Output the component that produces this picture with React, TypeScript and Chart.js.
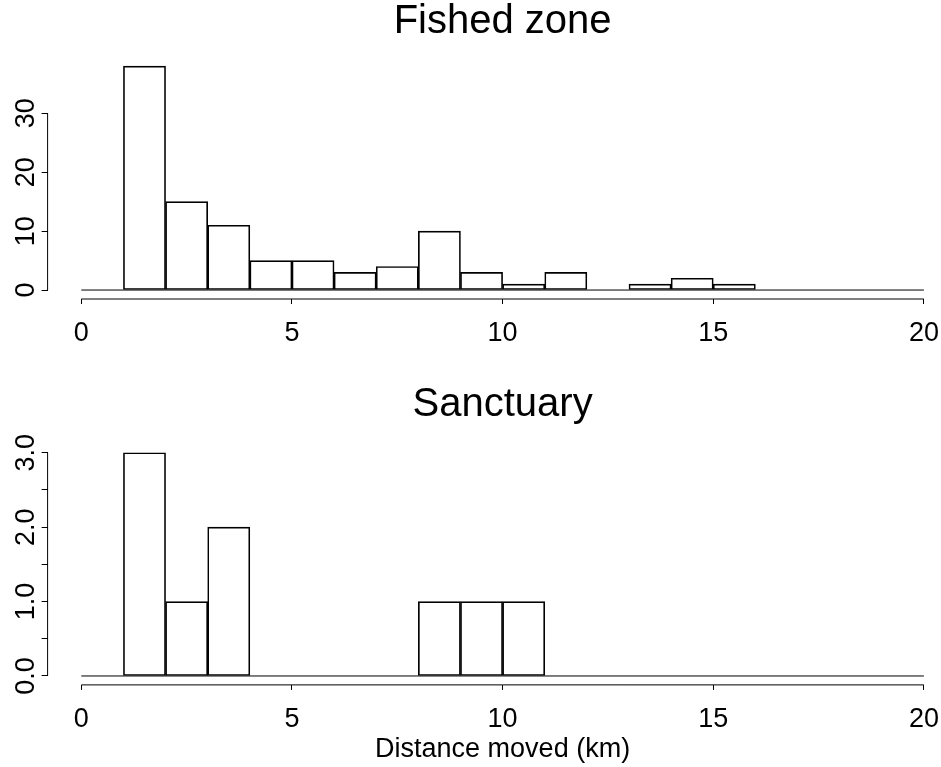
import React, { useEffect, useRef } from 'react';
import { Chart, registerables } from 'chart.js';

Chart.register(...registerables);

// ---------- data ----------
const breaks = [0, 1, 2, 3, 4, 5, 6, 7, 8, 9, 10, 11, 12, 13, 14, 15, 16, 17, 18, 19, 20];
const fishedCounts = [0, 38, 15, 11, 5, 5, 3, 4, 10, 3, 1, 3, 0, 1, 2, 1, 0, 0, 0, 0];
const sanctuaryCounts = [0, 3, 1, 2, 0, 0, 0, 0, 1, 1, 1, 0, 0, 0, 0, 0, 0, 0, 0, 0];

const xTicks = [0, 5, 10, 15, 20];
const xTickLabels = ['0', '5', '10', '15', '20'];
const fishedYTicks = [0, 10, 20, 30];
const fishedYLabels = ['0', '10', '20', '30'];
const sanctuaryYTicks = [0, 0.5, 1, 1.5, 2, 2.5, 3];
const sanctuaryYLabels = ['0.0', '', '1.0', '', '2.0', '', '3.0'];

const fishedTitle = 'Fished zone';
const sanctuaryTitle = 'Sanctuary';
const xAxisTitle = 'Distance moved (km)';

const FONT = "'Liberation Sans', Arial, Helvetica, sans-serif";
const TICK_SIZE = 27;
const TITLE_SIZE = 40;
const CANVAS_W = 1005;
const PLOT_LEFT = 47.6;
const PLOT_RIGHT = 957.6;

const rAxesPlugin = {
  id: 'rAxes',
  afterDraw(chart: any) {
    const { ctx, chartArea } = chart;
    const xs = chart.scales.x;
    const ys = chart.scales.y;
    const xv = xs.ticks.map((t: any) => t.value);
    const yv = ys.ticks.map((t: any) => t.value);
    ctx.save();
    ctx.strokeStyle = '#000';
    ctx.lineWidth = 1;
    ctx.beginPath();
    ctx.moveTo(xs.getPixelForValue(Math.min(...xv)), chartArea.bottom);
    ctx.lineTo(xs.getPixelForValue(Math.max(...xv)), chartArea.bottom);
    ctx.moveTo(chartArea.left, ys.getPixelForValue(Math.min(...yv)));
    ctx.lineTo(chartArea.left, ys.getPixelForValue(Math.max(...yv)));
    ctx.stroke();
    ctx.restore();
  },
};

function makeConfig(opts: {
  counts: number[];
  title: string;
  yTicks: number[];
  yLabels: string[];
  titleAreaHeight: number;
  titlePadTop: number;
  xAxisHeight: number;
  yLabelPad: number;
  xTitle?: string;
}) {
  const { counts, title, yTicks, yLabels, titleAreaHeight, titlePadTop, xAxisHeight, yLabelPad, xTitle } = opts;
  const barData = counts.map((c, i) => ({ x: (breaks[i] + breaks[i + 1]) / 2, y: c }));
  const ymax = Math.max(...counts);
  const xmin = breaks[0];
  const xmax = breaks[breaks.length - 1];
  const xpad = (xmax - xmin) * 0.04;
  const ypad = ymax * 0.04;
  return {
    type: 'bar',
    data: {
      datasets: [
        {
          type: 'bar',
          data: barData,
          xAxisID: 'x',
          yAxisID: 'y',
          backgroundColor: 'rgba(255,255,255,0)',
          borderColor: '#000',
          borderWidth: 1,
          borderSkipped: false,
          barPercentage: 1,
          categoryPercentage: 1,
        },
        {
          type: 'line',
          data: [
            { x: xmin, y: 0 },
            { x: xmax, y: 0 },
          ],
          xAxisID: 'x',
          yAxisID: 'y',
          borderColor: '#000',
          borderWidth: 1,
          pointRadius: 0,
          fill: false,
        },
      ],
    },
    options: {
      responsive: false,
      animation: false,
      events: [],
      layout: { padding: { left: 0, right: CANVAS_W - PLOT_RIGHT, top: 0, bottom: 0 } },
      plugins: {
        legend: { display: false },
        tooltip: { enabled: false },
        title: { display: false },
      },
      scales: {
        xTop: {
          type: 'linear',
          position: 'top',
          display: true,
          min: xmin - xpad,
          max: xmax + xpad,
          offset: false,
          afterFit: (s: any) => {
            s.height = titleAreaHeight;
          },
          border: { display: false },
          grid: { display: false },
          ticks: { display: false },
          title: {
            display: true,
            text: title,
            color: '#000',
            font: { family: FONT, size: TITLE_SIZE, weight: 'normal', lineHeight: 1 },
            padding: { top: titlePadTop, bottom: 0 },
          },
        },
        x: {
          type: 'linear',
          position: 'bottom',
          min: xmin - xpad,
          max: xmax + xpad,
          offset: false,
          afterBuildTicks: (s: any) => {
            s.ticks = xTicks.map((v) => ({ value: v }));
          },
          afterFit: (s: any) => {
            s.height = xAxisHeight;
          },
          border: { display: false },
          grid: {
            offset: false,
            drawOnChartArea: false,
            drawTicks: true,
            tickLength: 5,
            color: '#000',
            lineWidth: 1,
          },
          ticks: {
            autoSkip: false,
            maxRotation: 0,
            minRotation: 0,
            padding: 13.5,
            color: '#000',
            font: { family: FONT, size: TICK_SIZE, lineHeight: 1.2 },
            callback: (v: any) => {
              const i = xTicks.indexOf(Number(v));
              return i >= 0 ? xTickLabels[i] : '';
            },
          },
          title: xTitle
            ? {
                display: true,
                text: xTitle,
                color: '#000',
                font: { family: FONT, size: TICK_SIZE, lineHeight: 1.2 },
                padding: { top: 0, bottom: 1 },
              }
            : { display: false },
        },
        y: {
          type: 'linear',
          position: 'left',
          min: -ypad,
          max: ymax + ypad,
          afterBuildTicks: (s: any) => {
            s.ticks = yTicks.map((v) => ({ value: v }));
          },
          afterFit: (s: any) => {
            s.width = PLOT_LEFT;
          },
          border: { display: false },
          grid: {
            drawOnChartArea: false,
            drawTicks: true,
            tickLength: 6,
            color: '#000',
            lineWidth: 1,
          },
          ticks: {
            autoSkip: false,
            minRotation: 90,
            maxRotation: 90,
            crossAlign: 'center',
            padding: yLabelPad,
            color: '#000',
            font: { family: FONT, size: TICK_SIZE, lineHeight: 1.2 },
            callback: (v: any) => {
              const i = yTicks.indexOf(Number(v));
              return i >= 0 ? yLabels[i] : '';
            },
          },
        },
      },
    },
    plugins: [rAxesPlugin],
  };
}

export default function App() {
  const topRef = useRef<HTMLCanvasElement | null>(null);
  const botRef = useRef<HTMLCanvasElement | null>(null);

  useEffect(() => {
    const top = new Chart(
      topRef.current as HTMLCanvasElement,
      makeConfig({
        counts: fishedCounts,
        title: fishedTitle,
        yTicks: fishedYTicks,
        yLabels: fishedYLabels,
        titleAreaHeight: 57.2,
        titlePadTop: 1.5,
        xAxisHeight: 84,
        yLabelPad: -0.4,
      }) as any
    );
    const bot = new Chart(
      botRef.current as HTMLCanvasElement,
      makeConfig({
        counts: sanctuaryCounts,
        title: sanctuaryTitle,
        yTicks: sanctuaryYTicks,
        yLabels: sanctuaryYLabels,
        titleAreaHeight: 60.8,
        titlePadTop: 1.5,
        xAxisHeight: 82.1,
        yLabelPad: -4,
        xTitle: xAxisTitle,
      }) as any
    );
    return () => {
      top.destroy();
      bot.destroy();
    };
  }, []);

  return (
    <div
      style={{
        position: 'absolute',
        left: 0,
        top: 0,
        width: 941,
        height: 767,
        overflow: 'hidden',
        background: '#fff',
      }}
    >
      <canvas
        ref={topRef}
        width={CANVAS_W}
        height={383}
        style={{ position: 'absolute', left: 0, top: 0, width: CANVAS_W, height: 383 }}
      />
      <canvas
        ref={botRef}
        width={CANVAS_W}
        height={384}
        style={{ position: 'absolute', left: 0, top: 383, width: CANVAS_W, height: 384 }}
      />
    </div>
  );
}
